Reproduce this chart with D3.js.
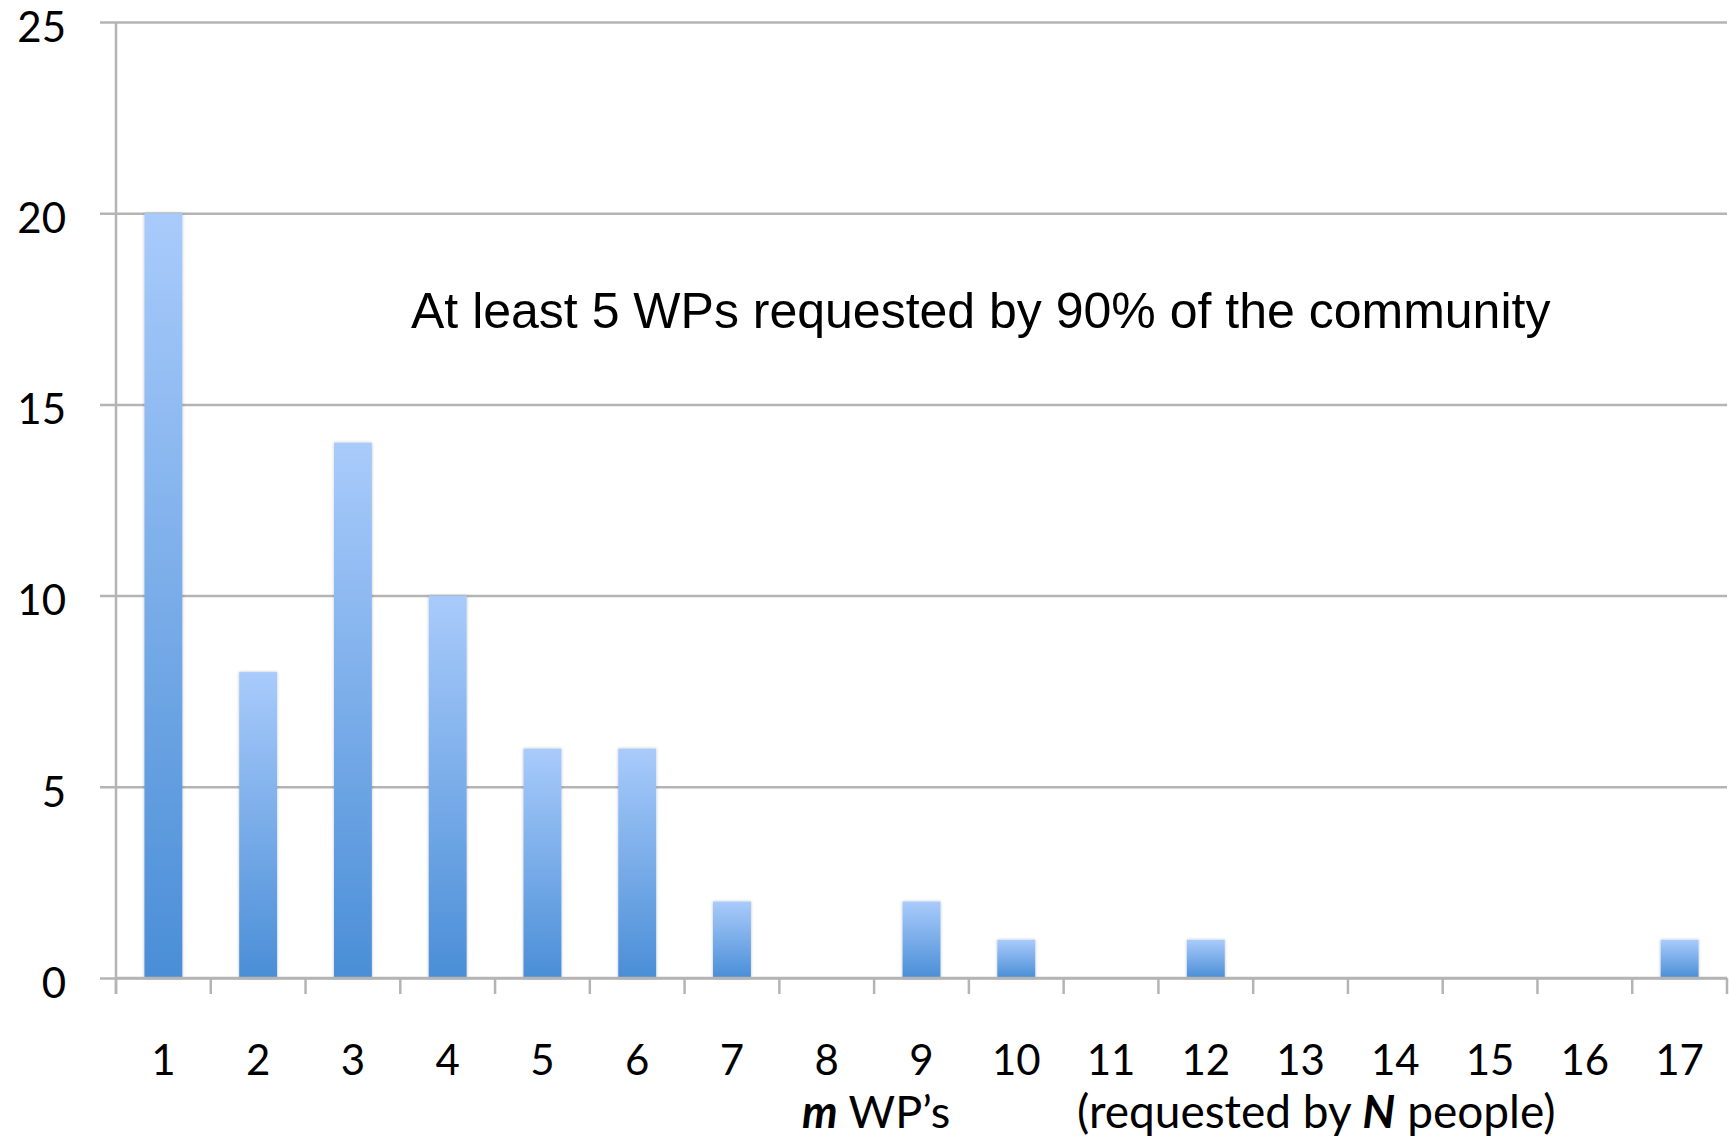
<!DOCTYPE html>
<html>
<head>
<meta charset="utf-8">
<script src="https://cdn.jsdelivr.net/npm/d3@7"></script>
<style>
  html, body { margin: 0; padding: 0; background: #ffffff; }
  svg { display: block; }
</style>
</head>
<body>
<svg id="chart" width="1729" height="1140"></svg>
<script>
// Number of work packages (m) requested by N people
const categories = ["1","2","3","4","5","6","7","8","9","10","11","12","13","14","15","16","17"];
const counts     = [20, 8, 14, 10, 6, 6, 2, 0, 2, 1, 0, 1, 0, 0, 0, 0, 1];
const yTicks     = [0, 5, 10, 15, 20, 25];
const note       = "At least 5 WPs requested by 90% of the community";

const W = 1729, H = 1140;
const margin = { top: 22, right: 2, bottom: 162, left: 116 };
const innerW = W - margin.left - margin.right;
const innerH = H - margin.top - margin.bottom;

const svg = d3.select("#chart");
const defs = svg.append("defs");

const grad = defs.append("linearGradient")
  .attr("id", "barFill")
  .attr("x1", 0).attr("y1", 0).attr("x2", 0).attr("y2", 1);
grad.append("stop").attr("offset", "0%").attr("stop-color", "#a9cbfb");
grad.append("stop").attr("offset", "100%").attr("stop-color", "#4a8ed7");

const shadow = defs.append("filter").attr("id", "barShadow")
  .attr("x", "-20%").attr("y", "-5%").attr("width", "140%").attr("height", "110%");
shadow.append("feDropShadow")
  .attr("dx", 0).attr("dy", 0).attr("stdDeviation", 1.5)
  .attr("flood-color", "#000").attr("flood-opacity", 0.25);

const g = svg.append("g").attr("transform", `translate(${margin.left},${margin.top})`);

const x = d3.scaleBand().domain(categories).range([0, innerW])
  .paddingInner(0.6).paddingOuter(0.3);
const y = d3.scaleLinear().domain([0, 25]).range([innerH, 0]);

const axisFont = "Lato, 'Open Sans', sans-serif";
const gridColor = "#b4b4b4";

// Horizontal gridlines with short ticks left of the axis
const yAxis = g.append("g")
  .call(d3.axisLeft(y).tickValues(yTicks).tickSize(-innerW).tickSizeOuter(0).tickPadding(50));
yAxis.select(".domain").remove();
yAxis.selectAll(".tick line")
  .attr("x1", -16)
  .attr("stroke", gridColor).attr("stroke-width", 2.5);
yAxis.selectAll(".tick text")
  .attr("fill", "#000")
  .attr("dy", "0.46em")
  .style("font-family", axisFont).style("font-size", "42px");

// Vertical axis line
g.append("line")
  .attr("x1", 0).attr("x2", 0).attr("y1", 0).attr("y2", innerH + 16)
  .attr("stroke", gridColor).attr("stroke-width", 2.5);

// Bars
g.selectAll("rect.bar")
  .data(categories.map((c, i) => ({ c, v: counts[i] })).filter(d => d.v > 0))
  .join("rect")
  .attr("class", "bar")
  .attr("x", d => x(d.c))
  .attr("y", d => y(d.v))
  .attr("width", x.bandwidth())
  .attr("height", d => y(0) - y(d.v))
  .attr("fill", "url(#barFill)")
  .attr("filter", "url(#barShadow)");

// Category axis: ticks at band boundaries, labels at band centres
const step = x.step();
const boundaries = d3.range(categories.length + 1).map(i => i * step);
const xAxisG = g.append("g").attr("transform", `translate(0,${innerH})`);
xAxisG.append("line")
  .attr("x1", 0).attr("x2", innerW)
  .attr("stroke", gridColor).attr("stroke-width", 2.5);
xAxisG.selectAll("line.tk")
  .data(boundaries)
  .join("line")
  .attr("class", "tk")
  .attr("x1", d => d).attr("x2", d => d)
  .attr("y1", 0).attr("y2", 16)
  .attr("stroke", gridColor).attr("stroke-width", 2.5);
xAxisG.selectAll("text.lbl")
  .data(categories)
  .join("text")
  .attr("class", "lbl")
  .attr("x", d => x(d) + x.bandwidth() / 2)
  .attr("y", 97)
  .attr("text-anchor", "middle")
  .attr("fill", "#000")
  .style("font-family", axisFont).style("font-size", "42px")
  .text(d => d);

// Axis captions
const cap1 = svg.append("text")
  .attr("x", 802).attr("y", 1128)
  .attr("fill", "#000")
  .style("font-family", axisFont).style("font-size", "45px");
cap1.append("tspan").style("font-weight", "bold").style("font-style", "italic").text("m");
cap1.append("tspan").text(" WP\u2019s");

const cap2 = svg.append("text")
  .attr("x", 1077).attr("y", 1128)
  .attr("fill", "#000")
  .style("font-family", axisFont).style("font-size", "46px");
cap2.append("tspan").text("(requested by ");
cap2.append("tspan").style("font-weight", "bold").style("font-style", "italic").text("N");
cap2.append("tspan").text(" people)");

// Annotation inside the plot
svg.append("text")
  .attr("x", 411).attr("y", 328)
  .attr("fill", "#000")
  .style("font-family", "'Liberation Sans', Arial, sans-serif")
  .style("font-size", "50px")
  .text(note);
</script>
</body>
</html>
